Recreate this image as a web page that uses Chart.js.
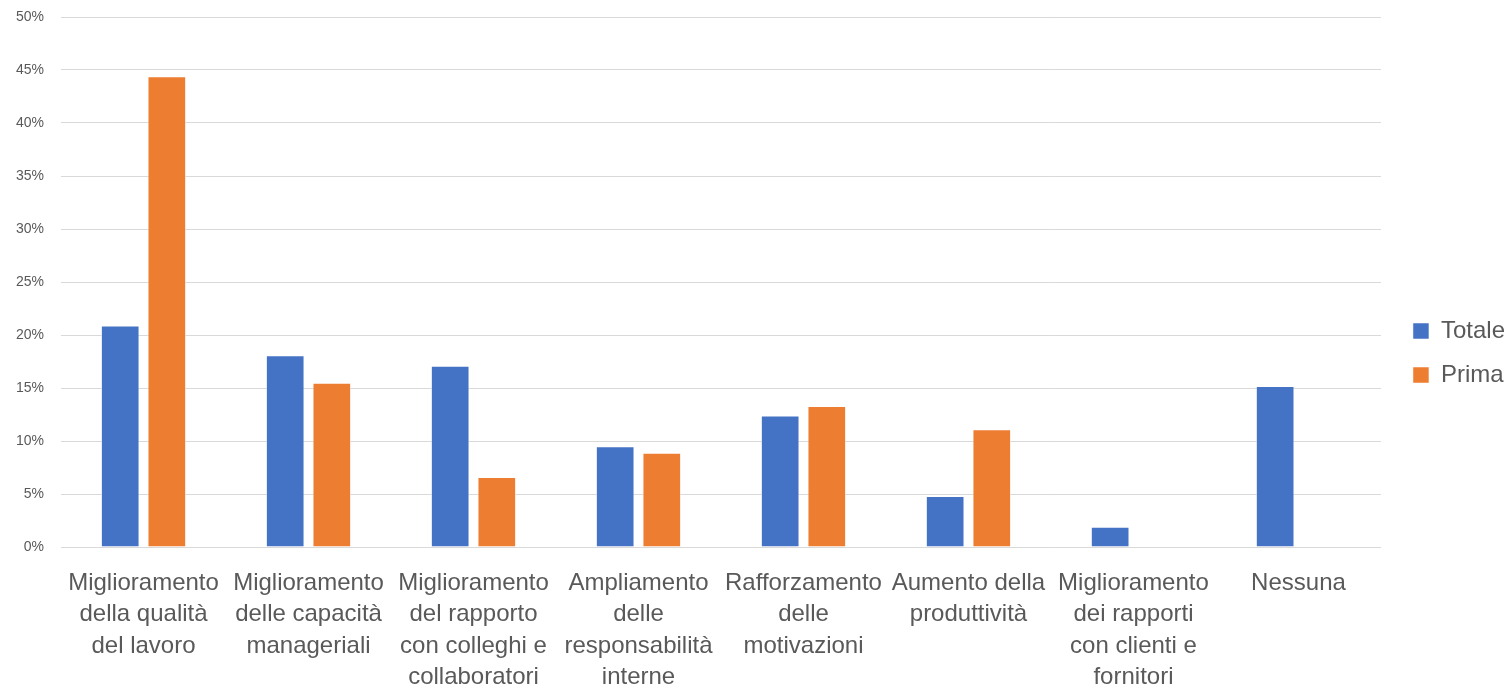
<!DOCTYPE html>
<html>
<head>
<meta charset="utf-8">
<script src="https://cdn.jsdelivr.net/npm/chart.js@4.4.1/dist/chart.umd.min.js"></script>
<style>
  html, body { margin: 0; padding: 0; background: #fff; }
  #wrap { width: 1506px; height: 689px; position: relative; }
</style>
</head>
<body>
<div id="wrap"><canvas id="chart"></canvas></div>
<script>
// categorie e valori (%)
const CATEGORIES = [
    ['Miglioramento', 'della qualità', 'del lavoro'],
    ['Miglioramento', 'delle capacità', 'manageriali'],
    ['Miglioramento', 'del rapporto', 'con colleghi e', 'collaboratori'],
    ['Ampliamento', 'delle', 'responsabilità', 'interne'],
    ['Rafforzamento', 'delle', 'motivazioni'],
    ['Aumento della', 'produttività'],
    ['Miglioramento', 'dei rapporti', 'con clienti e', 'fornitori'],
    ['Nessuna']
];
const TOTALE = [20.9, 18.1, 17.1, 9.5, 12.4, 4.8, 1.9, 15.2];
const PRIMA = [44.4, 15.5, 6.6, 8.9, 13.3, 11.1, 0, 0];
const Y_TICKS = [0, 5, 10, 15, 20, 25, 30, 35, 40, 45, 50];

const FONT = "'Liberation Sans', Arial, sans-serif";
const GREY = '#595959';
const LEGEND_GAP = 12; // spazio extra tra grafico e legenda

// allarga la legenda a sinistra senza spostare le voci
const legendGap = {
    id: 'legendGap',
    afterInit(chart) {
        const lg = chart.legend;
        const fit = lg.fit, draw = lg.draw;
        lg.fit = function () { fit.call(this); this.width += LEGEND_GAP; };
        lg.draw = function () {
            const c = this.ctx;
            c.save(); c.translate(LEGEND_GAP, 0); draw.call(this); c.restore();
        };
    }
};

window.onload = () => {
    const ctx = document.getElementById('chart').getContext('2d');
    new Chart(ctx, {
        type: 'bar',
        data: {
            labels: CATEGORIES,
            datasets: [
                { label: 'Totale', data: TOTALE, backgroundColor: '#4472c4', borderColor: 'rgba(255,255,255,0.5)', borderWidth: 1 },
                { label: 'Prima', data: PRIMA, backgroundColor: '#ed7d31', borderColor: 'rgba(255,255,255,0.5)', borderWidth: 1 }
            ]
        },
        plugins: [legendGap],
        options: {
            responsive: true,
            maintainAspectRatio: false,
            animation: false,
            datasets: { bar: { categoryPercentage: 0.565, barPercentage: 0.83 } },
            layout: { padding: { top: 17, right: -9, left: -1, bottom: 0 } },
            plugins: {
                tooltip: { enabled: false },
                legend: {
                    position: 'right',
                    labels: {
                        boxWidth: 16, boxHeight: 16, padding: 20,
                        color: GREY, font: { family: FONT, size: 24 }
                    }
                }
            },
            scales: {
                x: {
                    grid: { display: false },
                    border: { display: false },
                    afterFit: axis => { axis.height = 142; },
                    ticks: {
                        color: GREY, font: { family: FONT, size: 24, lineHeight: 1.3 },
                        maxRotation: 0, autoSkip: false, padding: 13
                    }
                },
                y: {
                    min: 0, max: 50,
                    afterBuildTicks: axis => { axis.ticks = Y_TICKS.map(v => ({ value: v })); },
                    afterFit: axis => { axis.paddingTop = 0; axis.paddingBottom = 0; },
                    grid: { color: '#d9d9d9', lineWidth: 1, drawTicks: false },
                    border: { display: false },
                    ticks: {
                        color: GREY, font: { family: FONT, size: 14 }, padding: 17,
                        callback: v => v + '%'
                    }
                }
            }
        }
    });
};
</script>
</body>
</html>
